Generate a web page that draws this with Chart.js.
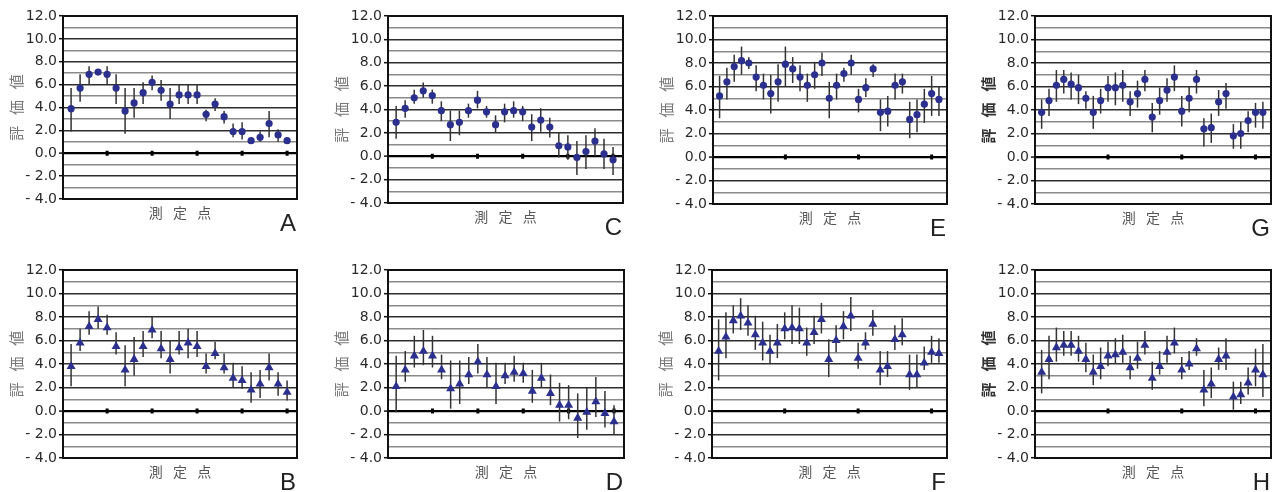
<!DOCTYPE html>
<html>
<head>
<meta charset="utf-8">
<script src="https://cdn.jsdelivr.net/npm/chart.js@4.4.1/dist/chart.umd.min.js"></script>
<style>
  html, body { margin: 0; padding: 0; background: #fff; }
  body { width: 1283px; height: 492px; position: relative; overflow: hidden; }
  .panel { position: absolute; }
</style>
</head>
<body>
<script>
const aMean = [3.9, 5.7, 6.9, 7.1, 6.9, 5.7, 3.7, 4.4, 5.3, 6.2, 5.5, 4.3, 5.1, 5.1, 5.1, 3.4, 4.3, 3.2, 1.9, 1.9, 1.1, 1.4, 2.6, 1.6, 1.1];
const aHigh = [5.7, 6.9, 7.6, 7.3, 7.6, 6.9, 5.7, 5.7, 6.2, 6.8, 6.4, 5.7, 6.0, 6.0, 6.0, 3.8, 4.8, 3.7, 2.6, 2.7, 1.3, 1.9, 3.7, 2.1, 1.2];
const aLow  = [1.9, 4.5, 6.0, 6.9, 6.0, 4.3, 1.7, 3.1, 4.3, 5.5, 4.6, 3.0, 4.3, 4.3, 4.3, 2.8, 3.7, 2.6, 1.4, 1.2, 0.9, 1.0, 1.4, 1.0, 0.95];

const bMean = [3.8, 5.8, 7.2, 7.8, 7.1, 5.5, 3.5, 4.4, 5.5, 6.9, 5.3, 4.4, 5.4, 5.8, 5.5, 3.8, 4.9, 3.7, 2.8, 2.6, 1.8, 2.3, 3.7, 2.3, 1.6];
const bHigh = [5.7, 7.0, 8.5, 8.9, 8.2, 6.7, 5.6, 6.3, 6.8, 8.0, 6.8, 6.0, 6.8, 7.0, 6.8, 4.9, 5.9, 4.9, 4.1, 3.8, 3.3, 3.5, 4.9, 3.3, 2.6];
const bLow  = [2.1, 5.1, 6.5, 7.0, 6.5, 4.8, 2.1, 3.0, 4.6, 6.2, 4.5, 3.2, 4.8, 4.5, 4.6, 3.2, 4.4, 3.2, 2.0, 1.9, 0.7, 1.1, 2.6, 1.3, 0.9];

const cMean = [2.9, 4.1, 5.0, 5.6, 5.2, 3.9, 2.7, 2.9, 3.9, 4.8, 3.8, 2.7, 3.8, 3.9, 3.8, 2.5, 3.1, 2.5, 0.9, 0.8, -0.1, 0.4, 1.3, 0.2, -0.3];
const cHigh = [4.3, 4.8, 5.7, 6.3, 5.7, 4.7, 3.9, 3.9, 4.5, 5.6, 4.3, 3.5, 4.5, 4.7, 4.3, 3.6, 4.1, 3.3, 2.0, 1.8, 1.3, 1.8, 2.4, 1.5, 0.8];
const cLow  = [1.5, 3.3, 4.5, 5.0, 4.5, 3.0, 1.3, 1.8, 3.3, 4.1, 3.3, 2.0, 2.9, 3.3, 3.0, 1.3, 2.1, 1.6, -0.1, -0.3, -1.6, -1.1, 0.0, -1.1, -1.6];

const dMean = [2.1, 3.5, 4.7, 5.1, 4.7, 3.5, 1.9, 2.3, 3.1, 4.2, 3.1, 2.1, 3.0, 3.3, 3.2, 1.7, 2.8, 1.5, 0.5, 0.5, -0.6, -0.1, 0.8, -0.2, -0.9];
const dHigh = [4.7, 5.1, 6.4, 6.9, 6.4, 4.8, 4.3, 4.3, 4.6, 5.7, 4.6, 4.1, 4.1, 4.7, 4.1, 3.5, 4.1, 3.1, 2.4, 2.2, 1.5, 2.0, 2.9, 1.7, 0.5];
const dLow  = [-0.1, 2.5, 3.7, 3.9, 3.7, 2.7, 0.2, 0.6, 2.3, 3.2, 2.0, 0.6, 2.3, 2.5, 2.4, 0.7, 2.0, 0.5, -0.9, -0.7, -2.3, -1.6, -0.5, -1.4, -2.0];

const eMean = [5.2, 6.4, 7.7, 8.2, 8.0, 6.8, 6.1, 5.4, 6.4, 7.9, 7.5, 6.8, 6.1, 7.0, 8.0, 5.0, 6.1, 7.1, 8.0, 4.9, 5.9, 7.5, 3.8, 3.9, 6.1, 6.4, 3.2, 3.6, 4.5, 5.4, 4.9];
const eHigh = [6.9, 7.6, 8.7, 9.4, 8.5, 7.8, 7.1, 7.0, 7.9, 9.4, 8.5, 7.8, 7.1, 8.1, 8.9, 6.4, 7.1, 7.6, 8.7, 5.8, 6.7, 7.9, 4.9, 5.2, 7.1, 7.1, 4.7, 4.9, 5.8, 6.9, 6.0];
const eLow  = [3.3, 4.9, 6.4, 7.0, 7.5, 5.6, 4.9, 3.7, 4.7, 6.0, 6.3, 5.6, 4.7, 5.8, 6.9, 3.3, 4.9, 6.4, 7.0, 3.8, 5.1, 6.8, 2.2, 2.6, 4.9, 5.4, 1.6, 2.1, 2.9, 3.5, 3.5];

const fMean = [5.1, 6.3, 7.7, 8.1, 7.5, 6.5, 5.8, 5.1, 5.8, 7.0, 7.1, 7.0, 5.8, 6.7, 7.8, 4.4, 6.0, 7.2, 8.1, 4.5, 5.8, 7.4, 3.5, 3.8, 6.1, 6.5, 3.1, 3.1, 4.1, 5.0, 4.9];
const fHigh = [7.8, 8.4, 9.0, 9.6, 9.0, 8.1, 7.6, 6.5, 7.4, 8.4, 9.0, 8.8, 7.1, 8.1, 9.2, 6.1, 7.3, 8.5, 9.7, 5.8, 6.7, 8.6, 5.1, 5.1, 7.3, 7.9, 4.8, 4.8, 5.5, 6.4, 6.2];
const fLow  = [2.6, 4.5, 6.6, 6.9, 6.4, 5.2, 4.3, 4.0, 4.5, 6.1, 5.7, 5.7, 4.7, 5.7, 6.6, 2.9, 5.0, 6.1, 6.8, 3.6, 5.2, 6.4, 2.2, 2.9, 5.2, 5.6, 1.8, 2.0, 3.5, 4.1, 4.1];

const gMean = [3.8, 4.8, 6.1, 6.6, 6.2, 5.9, 5.0, 3.8, 4.8, 5.9, 5.9, 6.1, 4.7, 5.4, 6.6, 3.4, 4.8, 5.7, 6.8, 3.9, 5.0, 6.6, 2.4, 2.5, 4.7, 5.4, 1.8, 2.0, 3.1, 3.8, 3.8];
const gHigh = [4.9, 5.8, 7.4, 7.4, 7.2, 7.0, 5.6, 5.2, 5.8, 6.9, 7.2, 7.4, 5.6, 6.5, 7.4, 4.6, 5.9, 6.7, 7.8, 5.2, 6.0, 7.4, 3.3, 3.7, 5.7, 6.3, 2.8, 3.0, 3.9, 4.6, 4.7];
const gLow  = [2.4, 3.5, 4.7, 5.4, 4.9, 4.5, 4.1, 2.4, 3.7, 4.7, 4.4, 4.7, 3.5, 4.2, 5.6, 2.1, 3.6, 4.7, 5.6, 2.6, 3.8, 5.4, 0.9, 1.2, 3.5, 4.1, 0.7, 0.7, 2.1, 2.5, 2.4];

const hMean = [3.3, 4.4, 5.4, 5.6, 5.6, 5.1, 4.4, 3.3, 3.8, 4.7, 4.8, 5.0, 3.7, 4.5, 5.6, 2.8, 3.8, 5.0, 5.8, 3.5, 4.0, 5.3, 1.8, 2.3, 4.4, 4.7, 1.2, 1.4, 2.4, 3.5, 3.1];
const hHigh = [5.2, 6.4, 7.1, 6.8, 6.8, 6.4, 5.8, 4.8, 5.4, 5.9, 6.2, 6.5, 4.7, 5.9, 6.8, 4.2, 5.1, 6.4, 7.1, 4.6, 5.1, 6.2, 3.5, 3.7, 5.4, 6.2, 2.5, 2.5, 3.7, 5.3, 5.7];
const hLow  = [1.5, 2.7, 4.2, 4.7, 4.7, 4.2, 3.3, 2.2, 2.7, 3.8, 4.0, 4.1, 2.7, 3.6, 4.8, 1.8, 3.1, 4.1, 4.9, 2.7, 3.5, 4.7, 0.4, 1.1, 3.5, 3.5, 0.1, 0.6, 1.4, 2.1, 1.2];

// small marks on the zero line
const zeroTicks25 = [5, 10, 15, 20, 25];
const zeroTicks31 = [10, 20, 30];

const yTitle = '評 価 値';
const xTitle = '測 定 点';
const BLUE = '#2b2f8e';

// plot boxes measured on the reference (left, top, width, height of the framed area)
const panels = [
  { letter: 'A', mean: aMean, high: aHigh, low: aLow, marker: 'circle',   ticks: zeroTicks25, box: [63, 16, 234, 183] },
  { letter: 'C', mean: cMean, high: cHigh, low: cLow, marker: 'circle',   ticks: zeroTicks25, box: [388, 16, 235, 187] },
  { letter: 'E', mean: eMean, high: eHigh, low: eLow, marker: 'circle',   ticks: zeroTicks31, box: [713, 16, 234, 188] },
  { letter: 'G', mean: gMean, high: gHigh, low: gLow, marker: 'circle',   ticks: zeroTicks31, box: [1035, 16, 236, 188], bold: true },
  { letter: 'B', mean: bMean, high: bHigh, low: bLow, marker: 'triangle', ticks: zeroTicks25, box: [63, 270, 234, 188] },
  { letter: 'D', mean: dMean, high: dHigh, low: dLow, marker: 'triangle', ticks: zeroTicks25, box: [388, 270, 236, 188] },
  { letter: 'F', mean: fMean, high: fHigh, low: fLow, marker: 'triangle', ticks: zeroTicks31, box: [712, 270, 235, 188] },
  { letter: 'H', mean: hMean, high: hHigh, low: hLow, marker: 'triangle', ticks: zeroTicks31, box: [1035, 270, 236, 188], bold: true },
];

const AXIS_W = 63, PAD_T = 12, PAD_R = 12, AXIS_H = 36;

// error bars, frame, zero line marks and panel letter
const decorPlugin = {
  id: 'decor',
  beforeDatasetsDraw(chart) {
    const p = chart.options.plugins.decor;
    const { ctx, chartArea: a, scales: { x, y } } = chart;
    ctx.save();
    // frame
    ctx.strokeStyle = '#111';
    ctx.lineWidth = 2;
    ctx.strokeRect(a.left, a.top, a.right - a.left, a.bottom - a.top);
    // marks on zero line
    const y0 = y.getPixelForValue(0);
    ctx.fillStyle = '#000';
    p.ticks.forEach(t => {
      const px = x.getPixelForValue(t);
      ctx.fillRect(px - 1.5, y0 - 2.5, 3, 5);
    });
    // error bars
    ctx.strokeStyle = '#333';
    ctx.lineWidth = 1.5;
    p.mean.forEach((_, i) => {
      const px = x.getPixelForValue(i + 1);
      ctx.beginPath();
      ctx.moveTo(px, y.getPixelForValue(p.high[i]));
      ctx.lineTo(px, y.getPixelForValue(p.low[i]));
      ctx.stroke();
    });
    ctx.restore();
  },
  afterDraw(chart) {
    const p = chart.options.plugins.decor;
    const { ctx, chartArea: a } = chart;
    ctx.save();
    ctx.font = '24px "Liberation Sans", Arial, sans-serif';
    ctx.fillStyle = '#222';
    ctx.textAlign = 'right';
    ctx.textBaseline = 'alphabetic';
    ctx.fillText(p.letter, a.right - 1, a.bottom + 32);
    ctx.restore();
  }
};

function fmt(v) {
  if (v % 2 !== 0) return '';
  return v < 0 ? '- ' + Math.abs(v).toFixed(1) : v.toFixed(1);
}

panels.forEach(p => {
  const [L, T, W, H] = p.box;
  const wrap = document.createElement('div');
  wrap.className = 'panel';
  wrap.style.left = (L - AXIS_W) + 'px';
  wrap.style.top = (T - PAD_T) + 'px';
  wrap.style.width = (W + AXIS_W + PAD_R) + 'px';
  wrap.style.height = (H + PAD_T + AXIS_H) + 'px';
  const cv = document.createElement('canvas');
  wrap.appendChild(cv);
  document.body.appendChild(wrap);

  const n = p.mean.length;
  const isCircle = p.marker === 'circle';

  new Chart(cv, {
    type: 'scatter',
    data: {
      datasets: [{
        data: p.mean.map((v, i) => ({ x: i + 1, y: v })),
        pointStyle: p.marker,
        pointRadius: isCircle ? 3.6 : 5.2,
        backgroundColor: BLUE,
        borderColor: BLUE,
        borderWidth: 0
      }]
    },
    options: {
      responsive: true,
      maintainAspectRatio: false,
      animation: false,
      layout: { padding: { top: PAD_T, right: PAD_R, left: 0, bottom: 0 } },
      plugins: {
        legend: { display: false },
        tooltip: { enabled: false },
        decor: { letter: p.letter, mean: p.mean, high: p.high, low: p.low, ticks: p.ticks }
      },
      scales: {
        x: {
          type: 'linear',
          min: 0.1,
          max: n + 1.1,
          grid: { display: false },
          border: { display: false },
          ticks: { display: false },
          title: {
            display: true,
            text: xTitle.replace(/ /g, '\u2002 '),
            color: '#555',
            font: { family: '"Noto Sans CJK JP", sans-serif', size: 14 },
            padding: { top: 0, bottom: 14 }
          },
          afterFit(s) { s.height = AXIS_H; }
        },
        y: {
          min: -4,
          max: 12,
          ticks: {
            stepSize: 1,
            autoSkip: false,
            padding: 2,
            color: '#2a2a2a',
            font: { family: '"DejaVu Sans", sans-serif', size: 14 },
            callback: v => fmt(v)
          },
          grid: {
            drawTicks: true,
            tickLength: 4,
            tickWidth: 1.5,
            tickColor: c => (c.tick && c.tick.value % 2 === 0) ? '#111' : 'rgba(0,0,0,0)',
            color: c => {
              if (!c.tick) return '#555';
              if (c.tick.value === 0) return '#000';
              return c.tick.value % 2 === 0 ? '#2e2e2e' : '#8a8a8a';
            },
            lineWidth: c => (c.tick && c.tick.value === 0) ? 2.2 : 1.4
          },
          border: { display: false },
          title: {
            display: true,
            text: yTitle.replace(/ /g, '\u2002 '),
            color: p.bold ? '#333' : '#777',
            font: { family: '"Noto Sans CJK JP", sans-serif', size: 15, weight: p.bold ? 'bold' : 'normal' },
            padding: { top: 7, bottom: 0 }
          },
          afterFit(s) { s.width = AXIS_W; }
        }
      }
    },
    plugins: [decorPlugin]
  });
});
</script>
</body>
</html>
